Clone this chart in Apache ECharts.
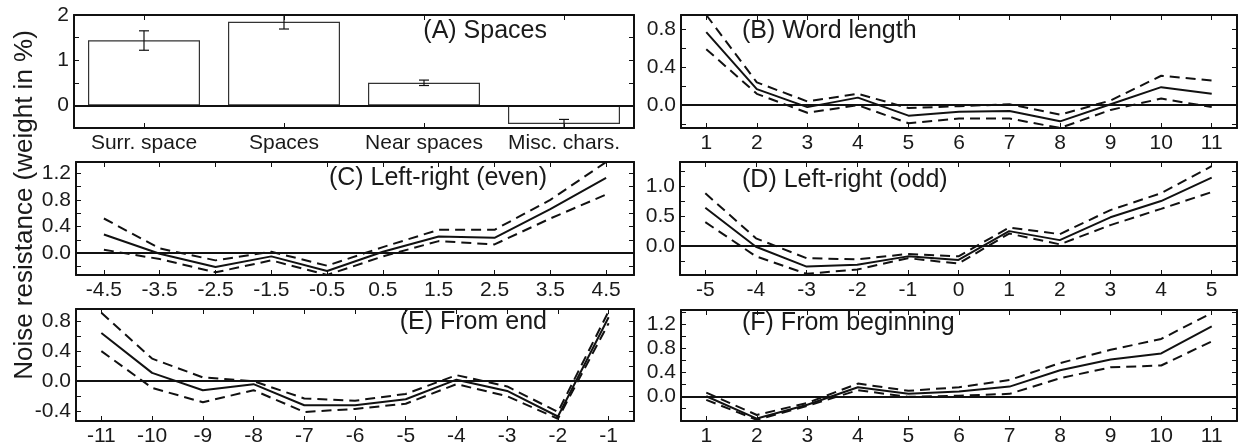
<!DOCTYPE html>
<html>
<head>
<meta charset="utf-8">
<script src="https://cdn.jsdelivr.net/npm/echarts@6/dist/echarts.min.js"></script>
<style>
html,body{margin:0;padding:0;background:#fff;}
#chart{width:1243px;height:447px;}
</style>
</head>
<body>
<div id="chart"></div>
<script>
// ---------- DATA ----------
const catA = ['Surr. space', 'Spaces', 'Near spaces', 'Misc. chars.'];
const barA = [1.44, 1.85, 0.50, -0.41];
const errLoA = [1.22, 1.69, 0.44, -0.50];
const errHiA = [1.65, 2.00, 0.56, -0.31];

const xB = [1, 2, 3, 4, 5, 6, 7, 8, 9, 10, 11];
const meanB = [0.77, 0.17, -0.02, 0.08, -0.11, -0.07, -0.06, -0.17, 0.01, 0.19, 0.12];
const upB = [0.95, 0.24, 0.04, 0.12, -0.03, -0.01, 0.01, -0.10, 0.05, 0.31, 0.26];
const loB = [0.59, 0.12, -0.08, 0.00, -0.19, -0.14, -0.14, -0.24, -0.05, 0.07, -0.02];

const xC = [-4.5, -3.5, -2.5, -1.5, -0.5, 0.5, 1.5, 2.5, 3.5, 4.5];
const meanC = [0.28, -0.01, -0.21, -0.05, -0.27, 0.02, 0.25, 0.23, 0.66, 1.13];
const upC = [0.52, 0.07, -0.11, 0.02, -0.19, 0.09, 0.35, 0.35, 0.80, 1.37];
const loC = [0.05, -0.09, -0.29, -0.11, -0.33, -0.05, 0.18, 0.13, 0.52, 0.88];

const xD = [-5, -4, -3, -2, -1, 0, 1, 2, 3, 4, 5];
const meanD = [0.64, -0.01, -0.34, -0.31, -0.17, -0.23, 0.25, 0.10, 0.48, 0.75, 1.14];
const upD = [0.88, 0.13, -0.20, -0.22, -0.13, -0.17, 0.31, 0.20, 0.60, 0.88, 1.33];
const loD = [0.40, -0.17, -0.46, -0.39, -0.20, -0.29, 0.21, 0.03, 0.35, 0.62, 0.90];

const xE = [-11, -10, -9, -8, -7, -6, -5, -4, -3, -2, -1];
const meanE = [0.64, 0.11, -0.12, -0.04, -0.32, -0.32, -0.24, 0.02, -0.13, -0.47, 0.85];
const upE = [0.91, 0.30, 0.05, 0.00, -0.23, -0.26, -0.17, 0.08, -0.07, -0.41, 0.93];
const loE = [0.40, -0.09, -0.28, -0.12, -0.41, -0.37, -0.30, -0.04, -0.20, -0.50, 0.77];

const xF = [1, 2, 3, 4, 5, 6, 7, 8, 9, 10, 11];
const meanF = [0.00, -0.37, -0.14, 0.15, 0.04, 0.08, 0.16, 0.43, 0.61, 0.71, 1.16];
const upF = [0.06, -0.31, -0.11, 0.21, 0.09, 0.15, 0.27, 0.55, 0.77, 0.95, 1.38];
const loF = [-0.06, -0.39, -0.16, 0.10, -0.01, 0.01, 0.04, 0.30, 0.48, 0.51, 0.91];

// tick / label values
const yTicksA = [0, 0.5, 1, 1.5, 2];
const yLabelsA = [0, 1, 2];
const yTicksB = [-0.2, 0, 0.2, 0.4, 0.6, 0.8];
const yLabelsB = [0, 0.4, 0.8];
const yTicksC = [-0.2, 0, 0.2, 0.4, 0.6, 0.8, 1.0, 1.2];
const yLabelsC = [0, 0.4, 0.8, 1.2];
const yTicksD = [-0.25, 0, 0.25, 0.5, 0.75, 1.0, 1.25];
const yLabelsD = [0, 0.5, 1.0];
const yTicksE = [-0.4, -0.2, 0, 0.2, 0.4, 0.6, 0.8];
const yLabelsE = [-0.4, 0, 0.4, 0.8];
const yTicksF = [-0.2, 0, 0.2, 0.4, 0.6, 0.8, 1.0, 1.2, 1.4];
const yLabelsF = [0, 0.4, 0.8, 1.2];

const titles = ['(A) Spaces', '(B) Word length', '(C) Left-right (even)', '(D) Left-right (odd)', '(E) From end', '(F) From beginning'];
const yTitle = 'Noise resistance (weight in %)';

// ---------- STYLE / LAYOUT ----------
const FONT = 'Liberation Sans, Arial, Helvetica, sans-serif';
const INK = '#111';
const TXT = '#1a1a1a';
const TICKFS = 21;
const grids = [
  {left: 74, top: 15, width: 560, height: 113},
  {left: 681, top: 15, width: 556, height: 113},
  {left: 76, top: 162, width: 558, height: 113},
  {left: 680, top: 162, width: 557, height: 113},
  {left: 76, top: 309, width: 558, height: 113},
  {left: 681, top: 310, width: 556, height: 112}
];

const xAxes = [];
const yAxes = [];
const series = [];

function frameLine() { return {show: true, onZero: false, lineStyle: {color: INK, width: 2}}; }

function addValueX(gi, min, max, vals, fmt) {
  xAxes.push({
    type: 'value', gridIndex: gi, position: 'bottom', min: min, max: max,
    axisLine: frameLine(),
    axisTick: {show: true, inside: true, length: 5, customValues: vals, lineStyle: {color: INK, width: 1}},
    axisLabel: {show: true, customValues: vals, formatter: fmt, fontSize: TICKFS, fontFamily: FONT, color: TXT, margin: 5},
    splitLine: {show: false}
  });
  xAxes.push({
    type: 'value', gridIndex: gi, position: 'top', min: min, max: max,
    axisLine: frameLine(),
    axisTick: {show: true, inside: true, length: 5, customValues: vals, lineStyle: {color: INK, width: 1}},
    axisLabel: {show: false},
    splitLine: {show: false}
  });
}

function addY(gi, min, max, ticks, labels, fmt) {
  yAxes.push({
    type: 'value', gridIndex: gi, position: 'left', min: min, max: max,
    axisLine: frameLine(),
    axisTick: {show: true, inside: true, length: 5, customValues: ticks, lineStyle: {color: INK, width: 1}},
    axisLabel: {show: true, customValues: labels, formatter: fmt, fontSize: TICKFS, fontFamily: FONT, color: TXT, margin: 5},
    splitLine: {show: false}
  });
  yAxes.push({
    type: 'value', gridIndex: gi, position: 'right', min: min, max: max,
    axisLine: frameLine(),
    axisTick: {show: true, inside: true, length: 5, customValues: ticks, lineStyle: {color: INK, width: 1}},
    axisLabel: {show: false},
    splitLine: {show: false}
  });
}

const zeroLine = {
  silent: true, symbol: ['none', 'none'], animation: false,
  label: {show: false},
  lineStyle: {color: INK, width: 2, type: 'solid'},
  data: [{yAxis: 0}]
};

function addLines(gi, xs, mean, up, lo) {
  const ax = gi * 2;
  const pair = arr => xs.map((x, i) => [x, arr[i]]);
  series.push({
    type: 'line', xAxisIndex: ax, yAxisIndex: ax, data: pair(up), showSymbol: false, silent: true,
    lineStyle: {color: INK, width: 2, type: [10, 6]}, animation: false
  });
  series.push({
    type: 'line', xAxisIndex: ax, yAxisIndex: ax, data: pair(lo), showSymbol: false, silent: true,
    lineStyle: {color: INK, width: 2, type: [10, 6]}, animation: false
  });
  series.push({
    type: 'line', xAxisIndex: ax, yAxisIndex: ax, data: pair(mean), showSymbol: false, silent: true,
    lineStyle: {color: INK, width: 2}, animation: false, markLine: zeroLine
  });
}

const f0 = v => Number(v).toFixed(0);
const f1 = v => Number(v).toFixed(1);
const fX = v => String(v);

// Panel A (category axis)
xAxes.push({
  type: 'category', gridIndex: 0, position: 'bottom', data: catA,
  axisLine: frameLine(),
  axisTick: {show: true, inside: true, length: 5, alignWithLabel: true, lineStyle: {color: INK, width: 1}},
  axisLabel: {show: true, fontSize: TICKFS, fontFamily: FONT, color: TXT, margin: 5, interval: 0},
  splitLine: {show: false}
});
xAxes.push({
  type: 'category', gridIndex: 0, position: 'top', data: catA,
  axisLine: frameLine(),
  axisTick: {show: true, inside: true, length: 5, alignWithLabel: true, lineStyle: {color: INK, width: 1}},
  axisLabel: {show: false},
  splitLine: {show: false}
});
addY(0, -0.5, 2, yTicksA, yLabelsA, f0);
series.push({
  type: 'bar', xAxisIndex: 0, yAxisIndex: 0, data: barA, barWidth: '80%', silent: true, animation: false,
  itemStyle: {color: '#fff', borderColor: '#333', borderWidth: 1.2},
  markLine: zeroLine
});
series.push({
  type: 'custom', xAxisIndex: 0, yAxisIndex: 0, silent: true, animation: false,
  data: catA.map((c, i) => [i, errLoA[i], errHiA[i]]),
  renderItem: function (params, api) {
    const lo = api.coord([api.value(0), api.value(1)]);
    const hi = api.coord([api.value(0), api.value(2)]);
    const w = 5;
    const st = {stroke: INK, lineWidth: 1.2};
    return {type: 'group', children: [
      {type: 'line', shape: {x1: lo[0], y1: lo[1], x2: hi[0], y2: hi[1]}, style: st},
      {type: 'line', shape: {x1: lo[0] - w, y1: lo[1], x2: lo[0] + w, y2: lo[1]}, style: st},
      {type: 'line', shape: {x1: hi[0] - w, y1: hi[1], x2: hi[0] + w, y2: hi[1]}, style: st}
    ]};
  },
  z: 5
});

// Panel B
addValueX(1, 0.5, 11.5, xB, fX);
addY(1, -0.24, 0.95, yTicksB, yLabelsB, f1);
addLines(1, xB, meanB, upB, loB);

// Panel C
addValueX(2, -5, 5, xC, v => Number(v).toFixed(1));
addY(2, -0.33, 1.37, yTicksC, yLabelsC, f1);
addLines(2, xC, meanC, upC, loC);

// Panel D
addValueX(3, -5.5, 5.5, xD, fX);
addY(3, -0.48, 1.4, yTicksD, yLabelsD, f1);
addLines(3, xD, meanD, upD, loD);

// Panel E
addValueX(4, -11.5, -0.5, xE, fX);
addY(4, -0.53, 0.96, yTicksE, yLabelsE, f1);
addLines(4, xE, meanE, upE, loE);

// Panel F
addValueX(5, 0.5, 11.5, xF, fX);
addY(5, -0.41, 1.43, yTicksF, yLabelsF, f1);
addLines(5, xF, meanF, upF, loF);

const titleStyle = {fontSize: 25, fontWeight: 'normal', fontFamily: FONT, color: TXT};
const titlePos = [
  {right: 696, top: 19}, {left: 742, top: 19},
  {right: 696, top: 166}, {left: 742, top: 168},
  {right: 696, top: 310}, {left: 742, top: 311}
];
const titleComps = titles.map((t, i) => Object.assign({text: t, padding: 0, textStyle: titleStyle}, titlePos[i]));

const chart = echarts.init(document.getElementById('chart'), null, {renderer: 'canvas'});
chart.setOption({
  animation: false,
  backgroundColor: '#fff',
  title: titleComps,
  grid: grids,
  xAxis: xAxes,
  yAxis: yAxes,
  series: series,
  graphic: [{
    type: 'text', x: 25, y: 205, rotation: Math.PI / 2,
    style: {text: yTitle, font: '26px ' + FONT, fill: TXT, textAlign: 'center', textVerticalAlign: 'middle'}
  }]
});
</script>
</body>
</html>
